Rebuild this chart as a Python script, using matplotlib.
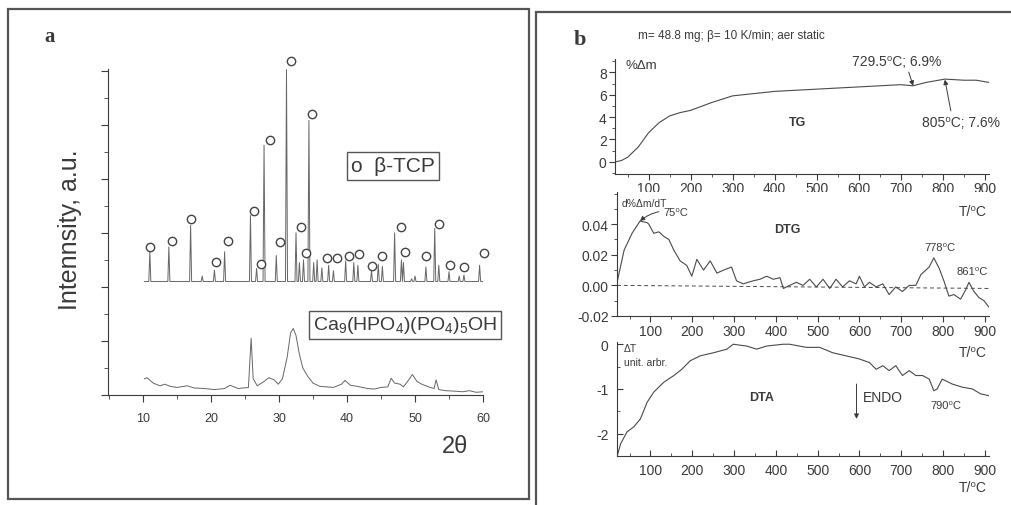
import matplotlib
matplotlib.use("Agg")
import matplotlib.pyplot as plt
from matplotlib.ticker import MultipleLocator
from matplotlib.patches import Rectangle

# ---- panel a: XRD patterns ----
tcp_peak_2theta = [11.0, 13.8, 17.0, 18.7, 20.5, 22.0, 25.8, 26.7, 27.8, 29.6,
                   31.1, 32.5, 33.0, 33.6, 34.4, 35.1, 35.6, 36.3, 37.3, 38.0,
                   39.8, 41.0, 41.6, 43.6, 44.6, 45.2, 47.0, 48.0, 48.3, 49.5,
                   50.0, 51.6, 52.9, 53.5, 55.0, 56.5, 57.2, 59.5]
tcp_peak_int = [2.65, 2.74, 3.14, 2.20, 2.31, 2.65, 3.32, 2.34, 4.62, 2.58,
                6.02, 3.00, 2.45, 2.50, 5.08, 2.45, 2.50, 2.35, 2.40, 2.30,
                2.48, 2.45, 2.40, 2.30, 2.42, 2.38, 3.00, 2.50, 2.45, 2.15,
                2.20, 2.37, 3.08, 2.40, 2.28, 2.20, 2.22, 2.40]
tcp_base = 2.1
tcp_range = [10.2, 60.0]

circle_2theta = [11.1, 14.3, 17.0, 20.7, 22.5, 26.3, 27.3, 28.7, 30.2, 31.7,
                 33.2, 33.9, 34.8, 37.0, 38.5, 40.3, 41.7, 43.7, 45.1, 47.9,
                 48.5, 51.6, 53.6, 55.1, 57.2, 60.2]
circle_int = [2.74, 2.85, 3.25, 2.46, 2.84, 3.40, 2.43, 4.72, 2.83, 6.17,
              3.11, 2.62, 5.19, 2.54, 2.54, 2.58, 2.60, 2.39, 2.57, 3.11,
              2.65, 2.57, 3.17, 2.40, 2.37, 2.63]

ca9_2theta = [10.2, 10.6, 11.5, 12.5, 13.2, 14.0, 15.0, 16.5, 17.5, 19.0,
              20.5, 22.0, 22.8, 24.0, 25.5, 25.9, 26.2, 26.8, 27.8, 28.5,
              29.3, 29.9, 30.5, 31.2, 31.7, 32.1, 32.5, 33.0, 33.5, 34.2,
              35.0, 36.0, 37.0, 38.0, 39.2, 39.7, 40.5, 41.5, 43.0, 44.0,
              45.0, 46.0, 46.5, 47.0, 47.8, 48.3, 49.2, 49.6, 50.3, 51.0,
              52.0, 52.8, 53.1, 53.5, 54.5, 56.0, 57.0, 58.0, 59.0, 60.0]
ca9_int = [0.30, 0.32, 0.22, 0.17, 0.20, 0.16, 0.14, 0.17, 0.13, 0.12,
           0.10, 0.12, 0.18, 0.12, 0.14, 1.05, 0.30, 0.17, 0.25, 0.32,
           0.28, 0.20, 0.30, 0.70, 1.15, 1.23, 1.10, 0.75, 0.50, 0.35,
           0.22, 0.16, 0.15, 0.14, 0.20, 0.27, 0.18, 0.16, 0.12, 0.11,
           0.14, 0.15, 0.31, 0.22, 0.20, 0.15, 0.30, 0.38, 0.25, 0.20,
           0.15, 0.12, 0.28, 0.10, 0.08, 0.07, 0.06, 0.08, 0.05, 0.06]

# ---- panel b: thermal analysis ----
tg_T = [22, 35, 50, 75, 100, 125, 150, 175, 200, 250, 300, 350, 400, 450,
        500, 550, 600, 650, 700, 729.5, 760, 805, 850, 880, 910]
tg_val = [0.0, 0.1, 0.4, 1.3, 2.6, 3.5, 4.1, 4.4, 4.6, 5.3, 5.9, 6.1, 6.3,
          6.4, 6.5, 6.6, 6.7, 6.8, 6.9, 6.8, 7.1, 7.4, 7.3, 7.3, 7.1]

dtg_T = [21, 37, 56, 75, 92, 96, 108, 120, 132, 144, 156, 171, 187, 199,
         211, 227, 243, 259, 275, 294, 306, 322, 346, 362, 378, 394, 410,
         418, 433, 449, 465, 481, 497, 513, 529, 544, 560, 576, 592, 600,
         612, 624, 640, 656, 671, 687, 703, 719, 735, 747, 759, 767, 778,
         791, 802, 814, 826, 842, 854, 862, 874, 886, 898, 909]
dtg_val = [0.003, 0.023, 0.034, 0.042, 0.041, 0.040, 0.034, 0.035, 0.032,
           0.030, 0.023, 0.016, 0.013, 0.006, 0.017, 0.010, 0.016, 0.008,
           0.010, 0.012, 0.003, 0.001, 0.003, 0.004, 0.006, 0.004, 0.005,
           -0.002, 0.000, 0.002, 0.000, 0.004, -0.001, 0.004, -0.002, 0.004,
           -0.001, 0.003, 0.001, 0.006, -0.001, 0.002, -0.001, 0.001, -0.006,
           -0.001, -0.004, 0.000, 0.000, 0.007, 0.010, 0.012, 0.018, 0.011,
           0.003, -0.007, -0.006, -0.009, -0.003, 0.002, -0.004, -0.008,
           -0.010, -0.014]
dtg_zero_T = [20, 910]
dtg_zero_val = [0.0, -0.002]

dta_T = [21, 29, 44, 60, 76, 92, 108, 132, 156, 175, 195, 219, 251, 283,
         298, 330, 354, 378, 418, 433, 473, 505, 536, 568, 600, 624, 640,
         656, 671, 687, 703, 719, 735, 751, 767, 778, 786, 798, 822, 846,
         870, 890, 909]
dta_val = [-2.48, -2.22, -1.96, -1.85, -1.67, -1.30, -1.07, -0.85, -0.70,
           -0.56, -0.37, -0.26, -0.19, -0.11, 0.0, -0.04, -0.11, -0.04, 0.0,
           0.0, -0.07, -0.07, -0.19, -0.26, -0.33, -0.41, -0.56, -0.48,
           -0.59, -0.48, -0.70, -0.59, -0.70, -0.70, -0.78, -1.04, -1.00,
           -0.78, -0.89, -0.96, -1.00, -1.11, -1.15]

t_ticks = [100, 200, 300, 400, 500, 600, 700, 800, 900]

W, H = 1012, 506
INK = "#3a3a3a"
LINE = "#4a4a4a"

plt.rcParams["font.family"] = ["Liberation Sans", "DejaVu Sans"]
plt.rcParams["mathtext.fontset"] = "custom"
plt.rcParams["mathtext.rm"] = "Liberation Sans"
plt.rcParams["mathtext.it"] = "Liberation Sans"
plt.rcParams["axes.unicode_minus"] = False
plt.rcParams["text.color"] = INK
plt.rcParams["axes.edgecolor"] = INK
plt.rcParams["xtick.color"] = INK
plt.rcParams["ytick.color"] = INK


def rect(l, t, r, b):
    # pixel box (from top-left) -> figure fraction
    return [l / W, 1 - b / H, (r - l) / W, (b - t) / H]


def ftext(x, y, s, **kw):
    fig.text(x / W, 1 - y / H, s, **kw)


fig = plt.figure(figsize=(W / 100, H / 100), dpi=100)
fig.patch.set_facecolor("white")

# panel frames
fig.add_artist(Rectangle((8 / W, 1 - 500 / H), 521 / W, 490 / H,
                         transform=fig.transFigure, fill=False, lw=1.6, ec="#555555"))
fig.add_artist(Rectangle((536 / W, 1 - 512 / H), 490 / W, 499 / H,
                         transform=fig.transFigure, fill=False, lw=1.6, ec="#555555"))

# ---------- panel a ----------
axa = fig.add_axes(rect(108, 70, 483, 396))
xs, ys = [tcp_range[0]], [tcp_base]
for p, h in zip(tcp_peak_2theta, tcp_peak_int):
    xs += [p - 0.15, p, p + 0.15]
    ys += [tcp_base, h, tcp_base]
xs.append(tcp_range[1])
ys.append(tcp_base)
axa.plot(xs, ys, color="#666666", lw=0.7)
axa.plot(ca9_2theta, ca9_int, color="#666666", lw=0.7)
axa.plot(circle_2theta, circle_int, ls="none", marker="o", ms=6, mfc="white",
         mec="#444444", mew=1.0, clip_on=False)

axa.set_xlim(4.85, 60)
axa.set_ylim(0, 6.03)
for s in ["top", "right"]:
    axa.spines[s].set_visible(False)
axa.xaxis.set_major_locator(MultipleLocator(10))
axa.xaxis.set_minor_locator(MultipleLocator(5))
axa.yaxis.set_major_locator(MultipleLocator(1))
axa.yaxis.set_minor_locator(MultipleLocator(0.5))
axa.set_xticks([10, 20, 30, 40, 50, 60])
axa.tick_params(axis="x", which="major", length=5, pad=7, labelsize=9)
axa.tick_params(axis="x", which="minor", length=3)
axa.tick_params(axis="y", which="major", length=5, labelleft=False)
axa.tick_params(axis="y", which="minor", length=3)

ftext(70, 230, "Intennsity, a.u.", fontsize=18, rotation=90, ha="center", va="center")
ftext(455, 447, "2θ", fontsize=17, ha="center", va="center")
ftext(50, 37, "a", fontsize=15, fontweight="bold", family="Liberation Serif",
      ha="center", va="center")
ftext(393, 167, "o  β-TCP", fontsize=15, ha="center", va="center",
      bbox=dict(boxstyle="square,pad=0.2", fc="white", ec="#555555", lw=1.0))
ftext(405, 326, "Ca$_9$(HPO$_4$)(PO$_4$)$_5$OH", fontsize=14, ha="center", va="center",
      bbox=dict(boxstyle="square,pad=0.2", fc="white", ec="#555555", lw=1.0))

# ---------- panel b ----------
def style_b(ax, inward=False):
    for s in ["top", "right"]:
        ax.spines[s].set_visible(False)
    ax.set_xlim(20, 910)
    ax.set_xticks(t_ticks)
    ax.xaxis.set_minor_locator(MultipleLocator(50))
    d = "in" if inward else "out"
    ax.tick_params(which="both", direction=d, labelsize=10)
    ax.tick_params(which="major", length=4)
    ax.tick_params(which="minor", length=2)


ax1 = fig.add_axes(rect(615, 60, 989, 175))
ax1.plot(tg_T, tg_val, color=LINE, lw=0.8)
style_b(ax1)
ax1.set_ylim(-1.1, 9.2)
ax1.set_yticks([0, 2, 4, 6, 8])
ax1.yaxis.set_minor_locator(MultipleLocator(1))
ax1.tick_params(axis="x", pad=1)
ax1.tick_params(axis="y", pad=2)

ax2 = fig.add_axes(rect(617, 193, 989, 317))
ax2.plot(dtg_T, dtg_val, color=LINE, lw=0.8)
ax2.plot(dtg_zero_T, dtg_zero_val, color=LINE, lw=0.7, ls=(0, (4, 3)))
style_b(ax2)
ax2.set_ylim(-0.02, 0.061)
ax2.set_yticks([-0.02, 0.0, 0.02, 0.04])
ax2.set_yticklabels(["-0.02", "0.00", "0.02", "0.04"])
ax2.yaxis.set_minor_locator(MultipleLocator(0.01))
ax2.tick_params(axis="x", pad=2)
ax2.tick_params(axis="y", pad=2)

ax3 = fig.add_axes(rect(617, 343, 989, 457))
ax3.plot(dta_T, dta_val, color=LINE, lw=0.8)
style_b(ax3, inward=True)
ax3.set_ylim(-2.5, 0.05)
ax3.set_yticks([-2, -1, 0])
ax3.yaxis.set_minor_locator(MultipleLocator(0.5))
ax3.tick_params(axis="x", pad=5)
ax3.tick_params(axis="y", pad=6)

ftext(580, 40, "b", fontsize=16, fontweight="bold", family="Liberation Serif",
      ha="center", va="center")
ftext(638, 36, "m= 48.8 mg; β= 10 K/min; aer static", fontsize=8.5, ha="left", va="center")
ftext(626, 66, "%Δm", fontsize=9.5, ha="left", va="center")
ftext(798, 123, "TG", fontsize=9, fontweight="bold", ha="center", va="center")
ftext(973, 212, "T/⁰C", fontsize=10, ha="center", va="center")
ftext(622, 204, "d%Δm/dT", fontsize=7.5, ha="left", va="center")
ftext(787, 230, "DTG", fontsize=9, fontweight="bold", ha="center", va="center")
ftext(924, 248, "778⁰C", fontsize=8, ha="left", va="center")
ftext(957, 272, "861⁰C", fontsize=8, ha="left", va="center")
ftext(973, 353, "T/⁰C", fontsize=10, ha="center", va="center")
ftext(624, 349, "ΔT", fontsize=7.5, ha="left", va="center")
ftext(624, 363, "unit. arbr.", fontsize=7.5, ha="left", va="center")
ftext(762, 398, "DTA", fontsize=9, fontweight="bold", ha="center", va="center")
ftext(863, 398, "ENDO", fontsize=10, ha="left", va="center")
ftext(930, 406, "790⁰C", fontsize=8, ha="left", va="center")
ftext(973, 488, "T/⁰C", fontsize=10, ha="center", va="center")

arrow = dict(arrowstyle="-|>", color=INK, lw=0.7, mutation_scale=7)
ax1.annotate("729.5⁰C; 6.9%", xy=(729.5, 6.8), xytext=(852, H - 62),
             textcoords="figure pixels", fontsize=10, ha="left", va="center",
             arrowprops=dict(arrow, relpos=(0.62, 0.0), shrinkA=1, shrinkB=0))
ax1.annotate("805⁰C; 7.6%", xy=(805, 7.35), xytext=(922, H - 123),
             textcoords="figure pixels", fontsize=10, ha="left", va="center",
             arrowprops=dict(arrow, relpos=(0.38, 1.0), shrinkA=1, shrinkB=0))
ax2.annotate("75⁰C", xy=(75, 0.042), xytext=(663, H - 213),
             textcoords="figure pixels", fontsize=8, ha="left", va="center",
             arrowprops=dict(arrow, relpos=(0.0, 0.6), shrinkA=1, shrinkB=0,
                             connectionstyle="arc3,rad=0.15"))
ax3.annotate("", xy=(593, -1.67), xytext=(593, -0.89),
             arrowprops=dict(arrow, shrinkA=0, shrinkB=0))

fig.savefig("out.png", dpi=100, facecolor="white")
